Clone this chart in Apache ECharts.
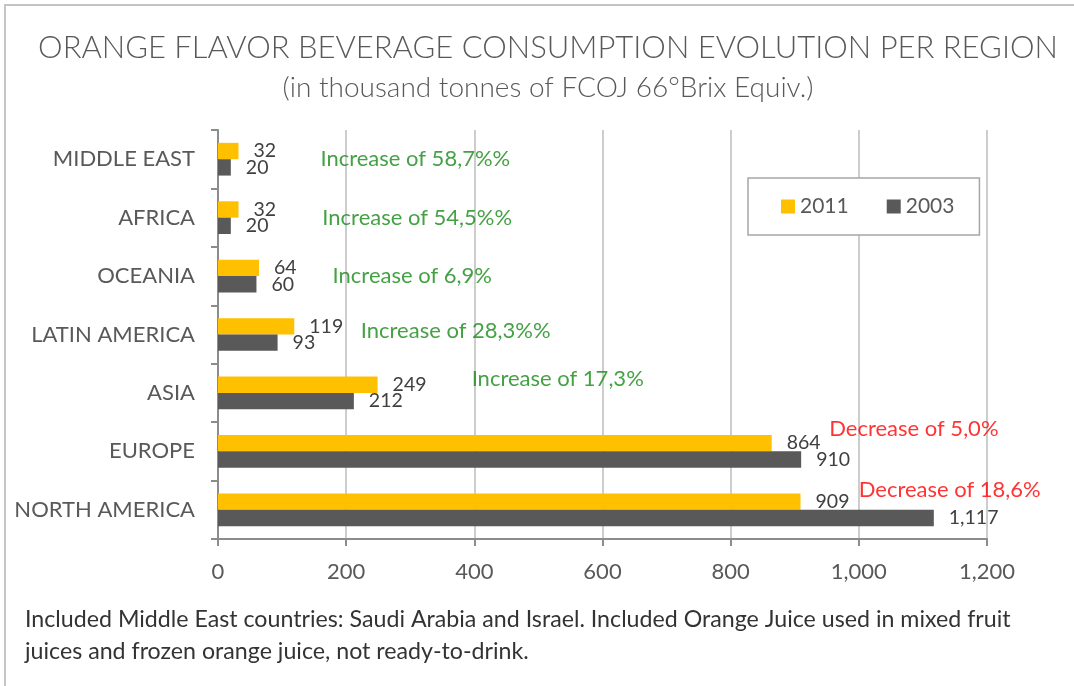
<!DOCTYPE html>
<html>
<head>
<meta charset="utf-8">
<script src="https://cdn.jsdelivr.net/npm/echarts@6/dist/echarts.min.js"></script>
<style>
  html, body { margin: 0; padding: 0; background: #fff; }
  #main { width: 1074px; height: 686px; }
</style>
</head>
<body>
<div id="main"></div>
<script>
  // regions, listed bottom to top as they sit on the axis
  var regions = ['NORTH AMERICA', 'EUROPE', 'ASIA', 'LATIN AMERICA', 'OCEANIA', 'AFRICA', 'MIDDLE EAST']
  var values2011 = [909, 864, 249, 119, 64, 32, 32]
  var values2003 = [1117, 910, 212, 93, 60, 20, 20]
  var xTicks = [0, 200, 400, 600, 800, 1000, 1200]

  // evolution notes per region
  var notes = ['Decrease of 18,6%', 'Decrease of 5,0%', 'Increase of 17,3%', 'Increase of 28,3%%',
    'Increase of 6,9%', 'Increase of 54,5%%', 'Increase of 58,7%%']
  var noteUp = [false, false, true, true, true, true, true]

  // where each note starts (axis units) and how far it is moved up/down (px)
  var noteX = [999, 953, 395, 222, 178, 162, 159]
  var noteShift = [-20, -22, -14, -4, 0, 0, 0]

  var FONT = 'Lato'
  var GREY = '#595959'

  var chart = echarts.init(document.getElementById('main'))

  var noteData = regions.map(function (r, i) {
    return {
      value: [noteX[i], r],
      label: {
        offset: [0, noteShift[i]],
        color: noteUp[i] ? '#158a15' : '#ff0000'
      }
    }
  })

  var valueLabel = {
    show: true, position: 'right', distance: 15,
    fontSize: 19.5, color: '#404040', fontFamily: FONT,
    formatter: function (p) { return p.value.toLocaleString('en-US') }
  }

  chart.setOption({
    animation: false,
    textStyle: { fontFamily: FONT },
    title: [
      {
        text: 'ORANGE FLAVOR BEVERAGE CONSUMPTION EVOLUTION PER REGION',
        left: 543, top: 27, textAlign: 'center',
        textStyle: { fontFamily: FONT, fontWeight: 300, fontSize: 31, color: GREY }
      },
      {
        text: '(in thousand tonnes of FCOJ 66°Brix Equiv.)',
        left: 543, top: 69, textAlign: 'center',
        textStyle: { fontFamily: FONT, fontWeight: 300, fontSize: 28, color: GREY }
      }
    ],
    legend: {
      data: ['2011', '2003'],
      left: 748, top: 178,
      backgroundColor: '#fff',
      borderColor: '#a6a6a6',
      borderWidth: 1.5,
      borderRadius: 0,
      padding: [18, 25, 18, 33],
      icon: 'rect',
      itemWidth: 14,
      itemHeight: 14,
      itemGap: 38,
      textStyle: { fontFamily: FONT, fontSize: 21, color: GREY }
    },
    grid: { left: 218, right: 87, top: 130, bottom: 147 },
    xAxis: {
      type: 'value',
      min: xTicks[0],
      max: xTicks[xTicks.length - 1],
      interval: xTicks[1] - xTicks[0],
      axisLine: { show: true, lineStyle: { color: '#8c8c8c', width: 2 } },
      axisTick: { show: true, length: 7, lineStyle: { color: '#8c8c8c', width: 2 } },
      axisLabel: {
        margin: 22, fontSize: 22, color: GREY, fontFamily: FONT,
        formatter: function (v) { return v.toLocaleString('en-US') }
      },
      splitLine: { show: true, lineStyle: { color: '#bdbdbd', width: 1.5 } }
    },
    yAxis: {
      type: 'category',
      data: regions,
      axisLine: { show: true, lineStyle: { color: '#8c8c8c', width: 2 } },
      axisTick: { show: true, length: 7, lineStyle: { color: '#8c8c8c', width: 2 } },
      axisLabel: { margin: 23, fontSize: 22, color: GREY, fontFamily: FONT }
    },
    series: [
      {
        name: '2011',
        type: 'bar',
        data: values2011,
        barGap: '0%',
        barCategoryGap: '44%',
        itemStyle: { color: '#ffc000' },
        label: valueLabel
      },
      {
        name: '2003',
        type: 'bar',
        data: values2003,
        itemStyle: { color: '#595959' },
        label: valueLabel
      },
      {
        name: 'notes',
        type: 'scatter',
        data: noteData,
        symbolSize: 1,
        silent: true,
        itemStyle: { color: 'rgba(0,0,0,0)' },
        label: {
          show: true, position: 'right', distance: 0,
          fontSize: 22, fontFamily: FONT,
          formatter: function (p) { return notes[p.dataIndex] }
        },
        z: 5
      }
    ],
    graphic: [
      {
        // outer frame of the chart area
        type: 'rect',
        shape: { x: 5, y: 5, width: 1200, height: 800 },
        style: { fill: 'none', stroke: '#c4c4c4', lineWidth: 2 },
        silent: true
      },
      {
        type: 'text',
        left: 25, top: 604,
        style: {
          text: 'Included Middle East countries: Saudi Arabia and Israel. Included Orange Juice used in mixed fruit\njuices and frozen orange juice, not ready-to-drink.',
          font: '23.2px ' + FONT,
          fill: '#333333',
          lineHeight: 32
        }
      }
    ]
  })
</script>
</body>
</html>
